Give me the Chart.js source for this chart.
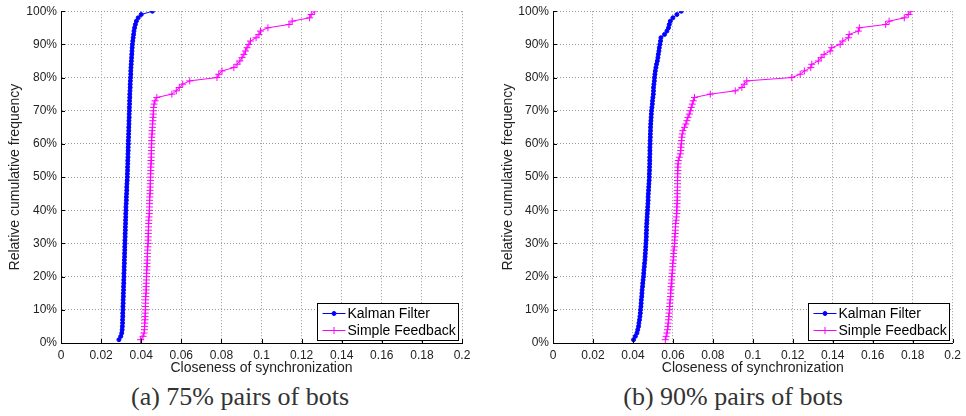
<!DOCTYPE html>
<html>
<head>
<meta charset="utf-8">
<script src="https://cdn.jsdelivr.net/npm/chart.js@4.4.0/dist/chart.umd.min.js"></script>
<style>
  body { margin: 0; background: #fff; width: 966px; height: 416px; position: relative; overflow: hidden; }
  .box { position: absolute; top: 0; width: 483px; height: 380px; }
  .cap { position: absolute; top: 382px; width: 300px; text-align: center;
         font: 26px "Liberation Serif", "DejaVu Serif", serif; color: #333; }
</style>
</head>
<body>
<div class="box" style="left:0"><canvas id="chartA" width="483" height="380"></canvas></div>
<div class="box" style="left:483px"><canvas id="chartB" width="483" height="380"></canvas></div>
<div class="cap" style="left:90px">(a) 75% pairs of bots</div>
<div class="cap" style="left:583px">(b) 90% pairs of bots</div>

<script>
// --- data ---
const cumPct = [
  1, 2, 3, 4, 5, 6, 7, 8, 9, 10, 11, 12, 13, 14, 15, 16, 17, 18, 19, 20,
  21, 22, 23, 24, 25, 26, 27, 28, 29, 30, 31, 32, 33, 34, 35, 36, 37, 38, 39, 40,
  41, 42, 43, 44, 45, 46, 47, 48, 49, 50, 51, 52, 53, 54, 55, 56, 57, 58, 59, 60,
  61, 62, 63, 64, 65, 66, 67, 68, 69, 70, 71, 72, 73, 74, 75, 76, 77, 78, 79, 80,
  81, 82, 83, 84, 85, 86, 87, 88, 89, 90, 91, 92, 93, 94, 95, 96, 97, 98, 99, 100
];

// (a) 75% pairs of bots
const kalmanA = [
  0.0289, 0.0298, 0.0303, 0.0305, 0.0306, 0.0307, 0.0307, 0.0308, 0.0308, 0.0309,
  0.0309, 0.0310, 0.0310, 0.0311, 0.0311, 0.0312, 0.0312, 0.0313, 0.0313, 0.0314,
  0.0314, 0.0315, 0.0315, 0.0316, 0.0316, 0.0317, 0.0317, 0.0318, 0.0318, 0.0319,
  0.0319, 0.0320, 0.0320, 0.0321, 0.0321, 0.0322, 0.0322, 0.0323, 0.0323, 0.0324,
  0.0324, 0.0325, 0.0326, 0.0326, 0.0327, 0.0328, 0.0328, 0.0329, 0.0330, 0.0331,
  0.0331, 0.0332, 0.0332, 0.0333, 0.0333, 0.0334, 0.0334, 0.0335, 0.0335, 0.0336,
  0.0336, 0.0337, 0.0337, 0.0338, 0.0338, 0.0339, 0.0339, 0.0340, 0.0340, 0.0341,
  0.0341, 0.0342, 0.0342, 0.0343, 0.0343, 0.0344, 0.0345, 0.0345, 0.0346, 0.0347,
  0.0348, 0.0348, 0.0349, 0.0350, 0.0351, 0.0352, 0.0353, 0.0354, 0.0355, 0.0356,
  0.0358, 0.0360, 0.0362, 0.0364, 0.0367, 0.0371, 0.0376, 0.0385, 0.0400, 0.0456
];
const feedbackA = [
  0.0397, 0.0409, 0.0414, 0.0416, 0.0417, 0.0418, 0.0419, 0.0419, 0.0420, 0.0421,
  0.0421, 0.0422, 0.0422, 0.0423, 0.0424, 0.0424, 0.0425, 0.0425, 0.0426, 0.0427,
  0.0427, 0.0428, 0.0429, 0.0429, 0.0430, 0.0431, 0.0431, 0.0432, 0.0433, 0.0434,
  0.0434, 0.0435, 0.0435, 0.0436, 0.0437, 0.0437, 0.0438, 0.0439, 0.0440, 0.0441,
  0.0441, 0.0442, 0.0442, 0.0443, 0.0444, 0.0444, 0.0445, 0.0445, 0.0446, 0.0447,
  0.0447, 0.0448, 0.0448, 0.0449, 0.0449, 0.0450, 0.0450, 0.0451, 0.0451, 0.0452,
  0.0452, 0.0453, 0.0454, 0.0454, 0.0456, 0.0457, 0.0458, 0.0459, 0.0460, 0.0461,
  0.0462, 0.0464, 0.0469, 0.0478, 0.0553, 0.0575, 0.0590, 0.0607, 0.0642, 0.0778,
  0.0787, 0.0803, 0.0862, 0.0878, 0.0892, 0.0903, 0.0912, 0.0920, 0.0928, 0.0937,
  0.0945, 0.0973, 0.0987, 0.0995, 0.1032, 0.1137, 0.1153, 0.1240, 0.1248, 0.1265
];

// (b) 90% pairs of bots
const kalmanB = [
  0.0403, 0.0412, 0.0420, 0.0424, 0.0428, 0.0430, 0.0433, 0.0435, 0.0437, 0.0438,
  0.0440, 0.0441, 0.0442, 0.0444, 0.0445, 0.0446, 0.0448, 0.0449, 0.0451, 0.0453,
  0.0454, 0.0455, 0.0457, 0.0458, 0.0460, 0.0461, 0.0462, 0.0463, 0.0464, 0.0465,
  0.0466, 0.0467, 0.0467, 0.0468, 0.0468, 0.0469, 0.0470, 0.0471, 0.0472, 0.0473,
  0.0474, 0.0475, 0.0476, 0.0476, 0.0477, 0.0478, 0.0479, 0.0480, 0.0481, 0.0482,
  0.0482, 0.0483, 0.0483, 0.0484, 0.0484, 0.0484, 0.0485, 0.0485, 0.0485, 0.0486,
  0.0486, 0.0487, 0.0487, 0.0488, 0.0488, 0.0489, 0.0490, 0.0491, 0.0492, 0.0493,
  0.0495, 0.0497, 0.0498, 0.0500, 0.0502, 0.0503, 0.0503, 0.0505, 0.0507, 0.0508,
  0.0510, 0.0512, 0.0515, 0.0518, 0.0522, 0.0525, 0.0527, 0.0530, 0.0532, 0.0535,
  0.0538, 0.0540, 0.0558, 0.0570, 0.0578, 0.0582, 0.0587, 0.0600, 0.0620, 0.0642
];
const feedbackB = [
  0.0562, 0.0566, 0.0570, 0.0573, 0.0575, 0.0576, 0.0578, 0.0580, 0.0581, 0.0583,
  0.0584, 0.0585, 0.0586, 0.0588, 0.0589, 0.0590, 0.0591, 0.0592, 0.0594, 0.0595,
  0.0596, 0.0597, 0.0599, 0.0600, 0.0602, 0.0603, 0.0604, 0.0605, 0.0607, 0.0608,
  0.0609, 0.0610, 0.0611, 0.0612, 0.0613, 0.0614, 0.0616, 0.0617, 0.0619, 0.0620,
  0.0620, 0.0621, 0.0621, 0.0622, 0.0622, 0.0622, 0.0623, 0.0623, 0.0623, 0.0624,
  0.0624, 0.0625, 0.0625, 0.0626, 0.0627, 0.0632, 0.0637, 0.0639, 0.0640, 0.0642,
  0.0643, 0.0645, 0.0647, 0.0650, 0.0658, 0.0665, 0.0670, 0.0675, 0.0682, 0.0687,
  0.0692, 0.0697, 0.0702, 0.0708, 0.0787, 0.0912, 0.0945, 0.0957, 0.0970, 0.1195,
  0.1237, 0.1258, 0.1290, 0.1295, 0.1328, 0.1342, 0.1357, 0.1387, 0.1395, 0.1437,
  0.1450, 0.1478, 0.1482, 0.1528, 0.1533, 0.1665, 0.1682, 0.1758, 0.1778, 0.1790
];

const xTicks = [0, 0.02, 0.04, 0.06, 0.08, 0.1, 0.12, 0.14, 0.16, 0.18, 0.2];
const xTickLabels = ['0', '0.02', '0.04', '0.06', '0.08', '0.1', '0.12', '0.14', '0.16', '0.18', '0.2'];
const yTicks = [0, 10, 20, 30, 40, 50, 60, 70, 80, 90, 100];
const yTickLabels = ['0%', '10%', '20%', '30%', '40%', '50%', '60%', '70%', '80%', '90%', '100%'];
const seriesNames = ['Kalman Filter', 'Simple Feedback'];

Chart.defaults.font.family = '"Liberation Sans", Arial, sans-serif';
Chart.defaults.color = '#222';

// MATLAB style: short ticks pointing into the plot, and a boxed legend in the corner
const matlabBits = {
  id: 'matlabBits',
  afterDraw(chart) {
    const { ctx, chartArea: a, scales: { x, y } } = chart;
    ctx.save();
    ctx.strokeStyle = '#000';
    ctx.lineWidth = 1;
    ctx.beginPath();
    x.ticks.forEach(t => {
      const px = Math.round(x.getPixelForValue(t.value)) + 0.5;
      ctx.moveTo(px, a.bottom); ctx.lineTo(px, a.bottom - 4);
    });
    y.ticks.forEach(t => {
      const py = Math.round(y.getPixelForValue(t.value)) + 0.5;
      ctx.moveTo(a.left, py); ctx.lineTo(a.left + 4, py);
    });
    ctx.stroke();

    // legend
    const w = 141, h = 37;
    const lx = Math.round(a.right - 4 - w) + 0.5, ly = Math.round(a.bottom - 3 - h) + 0.5;
    ctx.fillStyle = '#fff';
    ctx.fillRect(lx, ly, w, h);
    ctx.strokeStyle = '#000';
    ctx.strokeRect(lx, ly, w, h);
    ctx.font = '14px "Liberation Sans", Arial, sans-serif';
    ctx.textBaseline = 'middle';
    chart.data.datasets.forEach((ds, i) => {
      const yy = ly + 10 + i * 17;
      ctx.strokeStyle = ds.borderColor;
      ctx.lineWidth = 1;
      ctx.beginPath(); ctx.moveTo(lx + 5, yy); ctx.lineTo(lx + 28, yy); ctx.stroke();
      Chart.helpers.drawPoint(ctx, {
        pointStyle: ds.pointStyle, radius: ds.pointRadius, borderWidth: 1
      }, lx + 16.5, yy);
      ctx.fillStyle = ds.borderColor;
      if (ds.pointStyle === 'circle') {
        ctx.beginPath(); ctx.arc(lx + 16.5, yy, ds.pointRadius, 0, Math.PI * 2); ctx.fill();
      }
      ctx.fillStyle = '#000';
      ctx.fillText(ds.label, lx + 30, yy + 1);
    });
    ctx.restore();
  }
};

function makeChart(id, kalman, feedback, yWidth, yTitlePad, padRight) {
  const pts = arr => arr.map((v, i) => ({ x: v, y: cumPct[i] }));
  return new Chart(document.getElementById(id), {
    type: 'line',
    data: {
      datasets: [
        {
          label: seriesNames[0], data: pts(kalman),
          borderColor: '#0000ff', backgroundColor: '#0000ff',
          borderWidth: 1, pointStyle: 'circle', pointRadius: 2, pointBorderWidth: 1
        },
        {
          label: seriesNames[1], data: pts(feedback),
          borderColor: '#ff00ff', backgroundColor: '#ff00ff',
          borderWidth: 1, pointStyle: 'cross', pointRadius: 3.5, pointBorderWidth: 1
        }
      ]
    },
    options: {
      responsive: false,
      animation: false,
      layout: { padding: { top: 11, right: padRight, left: 0, bottom: 0 } },
      plugins: { legend: { display: false }, tooltip: { enabled: false } },
      elements: { line: { tension: 0 } },
      scales: {
        x: {
          type: 'linear', min: 0, max: 0.2,
          afterBuildTicks: s => { s.ticks = xTicks.map(v => ({ value: v })); },
          afterFit: s => { s.height = 37; },
          ticks: { callback: (v, i) => xTickLabels[i], font: { size: 12 }, padding: 5, maxRotation: 0 },
          grid: { color: '#9a9a9a', drawTicks: false },
          border: { color: '#000', width: 1, dash: [1, 2] },
          title: { display: true, text: 'Closeness of synchronization', font: { size: 14 }, padding: { top: 0, bottom: 3 } }
        },
        y: {
          type: 'linear', min: 0, max: 100,
          afterBuildTicks: s => { s.ticks = yTicks.map(v => ({ value: v })); },
          afterFit: s => { s.width = yWidth; },
          ticks: { callback: (v, i) => yTickLabels[i], font: { size: 12 }, padding: 4 },
          grid: { color: '#9a9a9a', drawTicks: false },
          border: { color: '#000', width: 1, dash: [1, 2] },
          title: { display: true, text: 'Relative cumulative frequency', font: { size: 14 }, padding: { top: yTitlePad, bottom: 0 } }
        }
      }
    },
    plugins: [matlabBits]
  });
}

makeChart('chartA', kalmanA, feedbackA, 61, 7, 21);
makeChart('chartB', kalmanB, feedbackB, 70, 17, 11);
</script>
</body>
</html>
